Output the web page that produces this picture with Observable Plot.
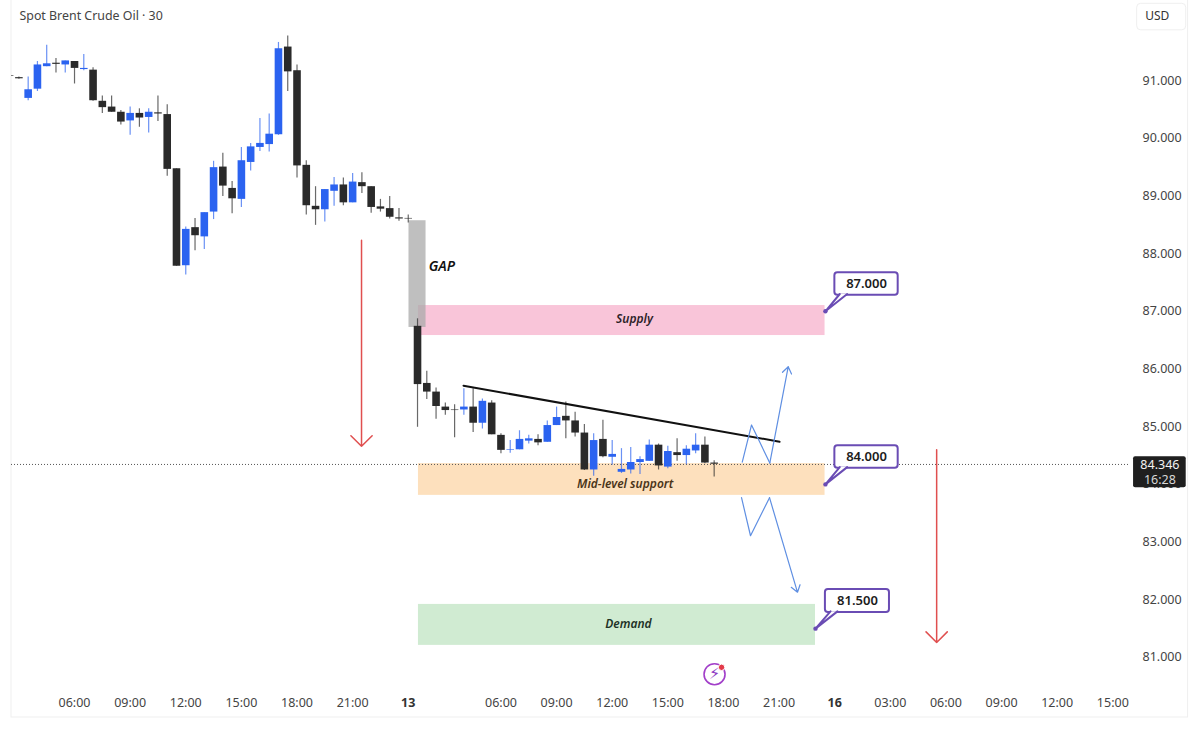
<!DOCTYPE html>
<html>
<head>
<meta charset="utf-8">
<style>html,body{margin:0;padding:0;background:#fff}svg{display:block}</style>
<script src="https://cdn.jsdelivr.net/npm/d3@7"></script>
<script src="https://cdn.jsdelivr.net/npm/@observablehq/plot@0.6"></script>
</head>
<body>
<div id="chart"></div>
<script>
// Candles: one value per 30-minute bar, first bar is index -1
const open = [91.08,91.05,90.69,90.85,91.24,91.30,91.27,91.33,91.19,91.18,90.64,90.54,90.45,90.30,90.43,90.36,90.44,90.41,89.47,87.79,88.45,88.29,88.72,89.50,89.13,88.94,89.58,89.84,89.89,90.06,91.58,91.17,89.53,88.82,88.76,89.08,89.19,88.88,89.23,89.16,88.81,88.78,88.62,88.61,86.74,85.75,85.60,85.34,85.29,85.29,85.34,85.06,85.41,84.85,84.59,84.60,84.75,84.78,84.73,85.02,85.18,85.10,84.89,84.25,84.78,84.47,84.21,84.25,84.38,84.40,84.68,84.30,84.55,84.50,84.58,84.68,84.37];
const high = [91.09,91.06,91.06,91.33,91.61,91.38,91.34,91.33,91.45,91.22,90.73,90.73,90.48,90.54,90.51,90.51,90.73,90.58,89.47,88.46,88.61,88.71,89.60,89.74,89.25,89.84,89.91,90.34,90.42,91.66,91.77,91.27,89.61,89.16,89.11,89.32,89.31,89.39,89.40,89.16,88.94,88.99,88.78,88.67,86.87,85.96,85.67,85.41,85.38,85.66,85.66,85.48,85.45,84.88,84.76,84.93,84.85,84.86,85.10,85.34,85.43,85.25,85.04,84.88,85.11,84.76,84.62,84.64,84.48,84.77,84.70,84.66,84.79,84.67,84.88,84.82,84.41];
const low = [91.06,91.02,90.65,90.81,91.24,91.13,91.13,90.94,91.17,90.64,90.43,90.45,90.23,90.05,90.19,90.09,90.29,89.34,87.78,87.63,88.05,88.07,88.59,88.99,88.69,88.80,89.43,89.77,89.76,90.05,90.81,89.31,88.67,88.49,88.55,88.82,88.83,88.88,89.04,88.70,88.72,88.60,88.56,88.53,84.99,85.47,85.13,85.20,84.81,85.20,84.90,84.96,84.86,84.53,84.54,84.60,84.70,84.67,84.73,85.02,84.79,84.82,84.24,84.14,84.46,84.33,84.19,84.18,84.17,84.40,84.25,84.27,84.40,84.34,84.53,84.36,84.13];
const close = [91.07,91.03,90.84,91.27,91.29,91.28,91.34,91.21,91.21,90.65,90.53,90.45,90.28,90.43,90.35,90.45,90.42,89.46,87.78,88.42,88.31,88.71,89.49,89.17,88.95,89.61,89.85,89.91,90.07,91.55,91.15,89.52,88.83,88.76,89.11,89.19,88.88,89.24,89.16,88.80,88.77,88.63,88.60,88.60,85.73,85.60,85.35,85.28,85.28,85.34,85.06,85.44,84.86,84.59,84.60,84.78,84.79,84.72,85.02,85.16,85.10,84.89,84.25,84.76,84.48,84.52,84.26,84.38,84.43,84.68,84.32,84.57,84.50,84.61,84.68,84.37,84.35];

// Time axis
const timeTicks = [6,12,18,24,30,36,52,58,64,70,76,82,94,100,106,112,118];
const timeLabels = ["06:00","09:00","12:00","15:00","18:00","21:00","06:00","09:00","12:00","15:00","18:00","21:00","03:00","06:00","09:00","12:00","15:00"];
const dayTicks = [42,88];
const dayLabels = ["13","16"];

// Price axis
const priceTicks = [81,82,83,84,85,86,87,88,89,90,91];
const lastPrice = 84.346;

// Zones
const zoneNames = ["Supply","Mid-level support","Demand"];
const zoneStart = [43.1,43.1,43.1];
const zoneEnd = [86.96,86.96,85.93];
const zoneTop = [87.10,84.36,81.92];
const zoneBottom = [86.58,83.81,81.21];
const zoneColors = ["#f9c5d9","#fde0bd","#d0ebd2"];
const zoneLabelX = [66.4,65.4,65.75];
const zoneLabelY = [86.86,84.0,81.58];
const zoneTextColors = ["#2c2228","#4a3418","#1e3226"];

// Callouts
const calloutLabels = ["87.000","84.000","81.500"];
const calloutPrice = [87,84,81.5];
const calloutAnchor = [87,87,85.93];
const calloutX1 = [88.02,88.02,87.0];
const calloutX2 = [94.85,94.85,93.91];
const calloutTop = [87.67,84.67,82.18];
const calloutBottom = [87.28,84.28,81.78];
const calloutTailA = [88.55,88.55,87.55];
const calloutTailB = [89.35,89.35,88.3];
const purple = "#6a4cb4";

// Scenario paths
const upPathX = [78.03,79.03,81.0], upPathY = [84.385,85.03,84.37];
const downPathX = [77.95,78.92,80.97], downPathY = [83.77,83.11,83.77];

const candles = open.map((o,k)=>({i:k-1,o,h:high[k],l:low[k],c:close[k],up:close[k]>o}));
const BLUE="#2b63f0", DARK="#2a2a2a";
const col = d=>d.up?BLUE:DARK;

const zones = zoneNames.map((name,k)=>({name,x1:zoneStart[k],x2:zoneEnd[k],y1:zoneTop[k],y2:zoneBottom[k],color:zoneColors[k],lx:zoneLabelX[k],ly:zoneLabelY[k],tc:zoneTextColors[k]}));
const callouts = calloutLabels.map((label,k)=>({label,p:calloutPrice[k],ax:calloutAnchor[k],x1:calloutX1[k],x2:calloutX2[k],t:calloutTop[k],b:calloutBottom[k],a:calloutTailA[k],c:calloutTailB[k]}));
const tails = callouts.flatMap(d=>[
  {id:d.label,x:d.a,y:d.b+0.02},{id:d.label,x:d.ax,y:d.p},{id:d.label,x:d.c,y:d.b+0.02}
]);
const path = (xs,ys)=>xs.map((x,k)=>({x,y:ys[k]}));
const lookup = (t,l)=>v=>l[t.indexOf(v)];
const font = "'Noto Sans',sans-serif";

const chart = Plot.plot({
  width:1200,height:735,
  marginTop:0,marginBottom:45,marginLeft:11,marginRight:70,
  x:{domain:[-0.798,119.91]},
  y:{domain:[80.428,92.387]},
  style:{fontFamily:font,fontSize:"12.5px",background:"#fff",color:"#3c3c3c"},
  marks:[
    // outer frame
    Plot.rect([0],{x1:-0.798,x2:126.12,y1:93,y2:79.96,fill:"none",stroke:"#efefef",strokeWidth:1}),
    // zones
    Plot.rect(zones,{x1:"x1",x2:"x2",y1:"y1",y2:"y2",fill:"color"}),
    // gap
    Plot.rect([0],{x1:42.08,x2:43.92,y1:88.57,y2:86.72,fill:"#a9a9a9",fillOpacity:0.75}),
    // last price line
    Plot.ruleY([lastPrice],{stroke:"#555",strokeWidth:1,strokeDasharray:"1,2"}),
    // candles
    Plot.ruleX(candles,{x:"i",y1:"l",y2:"h",stroke:col,strokeWidth:1.2,strokeOpacity:0.7,clip:true}),
    Plot.ruleX(candles,{x:"i",y1:"o",y2:"c",stroke:col,strokeWidth:7.6,clip:true}),
    // trend line
    Plot.line(path([47.96,82.05],[85.71,84.74]),{x:"x",y:"y",stroke:"#111",strokeWidth:2}),
    // scenario arrows
    Plot.line(path(upPathX,upPathY),{x:"x",y:"y",stroke:"#5f8fe2",strokeWidth:1.2}),
    Plot.line(path(downPathX,downPathY),{x:"x",y:"y",stroke:"#5f8fe2",strokeWidth:1.2}),
    Plot.arrow([0],{x1:81.0,y1:84.37,x2:82.99,y2:86.04,stroke:"#5f8fe2",strokeWidth:1.2,headAngle:70,headLength:10,insetEnd:0,insetStart:0}),
    Plot.arrow([0],{x1:80.97,y1:83.77,x2:83.99,y2:82.13,stroke:"#5f8fe2",strokeWidth:1.2,headAngle:70,headLength:10,insetEnd:0,insetStart:0}),
    Plot.arrow([0],{x1:36.96,y1:88.23,x2:36.96,y2:84.66,stroke:"#e04f4f",strokeWidth:1.5,headAngle:90,headLength:15}),
    Plot.arrow([0],{x1:99,y1:84.60,x2:99,y2:81.26,stroke:"#e04f4f",strokeWidth:1.5,headAngle:90,headLength:15}),
    // zone labels
    Plot.text(zones,{x:"lx",y:"ly",text:"name",fill:"tc",fontStyle:"italic",fontWeight:600,fontSize:12}),
    Plot.text(["GAP"],{x:44.2,y:87.78,text:d=>d,textAnchor:"start",fontStyle:"italic",fontWeight:600,fontSize:14,fill:"#111"}),
    // callouts
    Plot.rect(callouts,{x1:"x1",x2:"x2",y1:"t",y2:"b",fill:"#fff",stroke:purple,strokeWidth:2,rx:3}),
    Plot.line(tails,{x:"x",y:"y",z:"id",fill:"#fff",stroke:purple,strokeWidth:2}),
    Plot.dot(callouts,{x:"ax",y:"p",r:2.2,fill:purple}),
    Plot.text(callouts,{x:d=>(d.x1+d.x2)/2,y:d=>(d.t+d.b)/2,text:"label",fontSize:13,fontWeight:600,fill:"#1c1c1c"}),
    // axes
    Plot.axisX({ticks:timeTicks,tickFormat:lookup(timeTicks,timeLabels),tickSize:0,tickPadding:8,label:null,fill:"#444"}),
    Plot.axisX({ticks:dayTicks,tickFormat:lookup(dayTicks,dayLabels),tickSize:0,tickPadding:8,label:null,fontWeight:700,fill:"#333"}),
    Plot.axisY({ticks:priceTicks,anchor:"right",tickFormat:d=>d3.format(".3f")(d),tickSize:0,tickPadding:12,label:null,fill:"#444"}),
    // last price tag
    Plot.rect([0],{x1:120.24,x2:125.92,y1:84.48,y2:83.94,fill:"#1f1f1f",rx:2}),
    Plot.text(["84.346"],{x:123.08,y:84.33,text:d=>d,fill:"#f2f2f2",fontSize:12.5}),
    Plot.text(["16:28"],{x:123.08,y:84.07,text:d=>d,fill:"#d8d8d8",fontSize:12.5}),
    // currency
    Plot.rect([0],{x1:120.63,x2:125.92,y1:92.33,y2:91.87,fill:"#fff",stroke:"#efefef",rx:4}),
    Plot.text(["USD"],{x:122.8,y:92.11,text:d=>d,fontSize:12,fill:"#333"}),
    // title
    Plot.text(["Spot Brent Crude Oil · 30"],{x:0.06,y:92.11,text:d=>d,textAnchor:"start",fontSize:12.4,fill:"#444"}),
    // lightning badge
    Plot.dot([0],{x:75.04,y:80.71,r:10.5,stroke:"#a23fc9",fill:"#fff",strokeWidth:1.6}),
    Plot.text(["⚡"],{x:75.04,y:80.71,text:d=>d,fontSize:16,fill:"#8e3ac4",fontFamily:"'DejaVu Sans'"}),
    Plot.dot([0],{x:75.8,y:80.83,r:3.2,fill:"#e33a4a",stroke:"#fff",strokeWidth:1})
  ]
});
document.getElementById("chart").append(chart);
</script>
</body>
</html>
